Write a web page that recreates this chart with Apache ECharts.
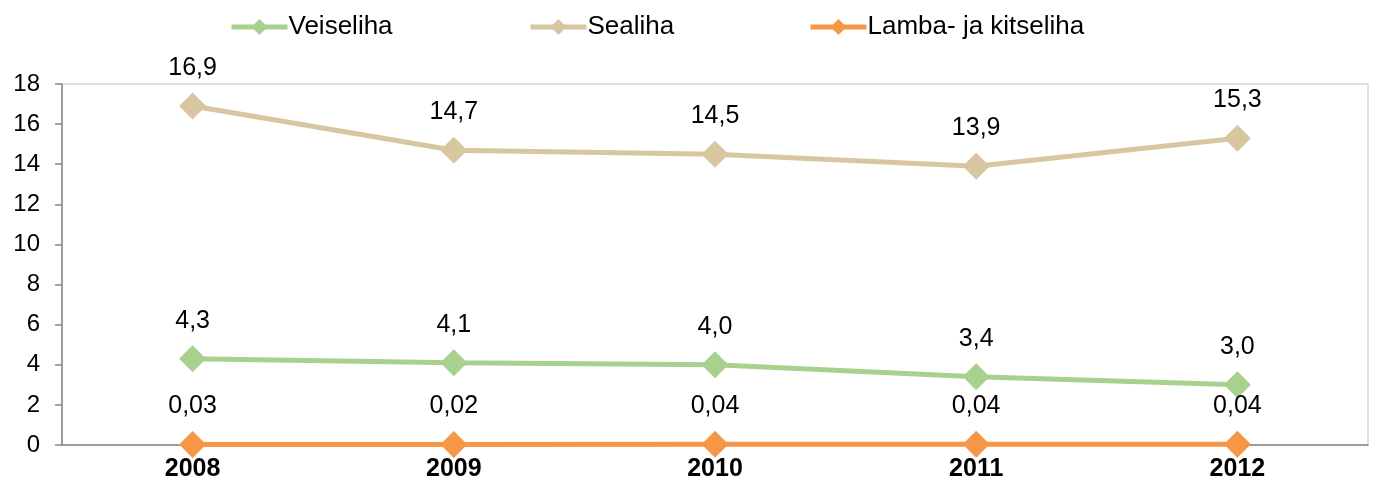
<!DOCTYPE html>
<html><head><meta charset="utf-8">
<script src="https://cdn.jsdelivr.net/npm/echarts@6/dist/echarts.min.js"></script>
<style>html,body{margin:0;padding:0;background:#fff}#c{width:1375px;height:491px}</style>
</head><body><div id="c"></div>
<script>
const categories = ['2008','2009','2010','2011','2012'];
const veiseliha = [4.3, 4.1, 4.0, 3.4, 3.0];
const sealiha = [16.9, 14.7, 14.5, 13.9, 15.3];
const lamba = [0.03, 0.02, 0.04, 0.04, 0.04];
const seriesNames = ['Veiseliha', 'Sealiha', 'Lamba- ja kitseliha'];
const seriesColors = ['#a9d18e', '#d7c6a0', '#f79646'];
const labelDecimals = [1, 1, 2];
const yTicks = {min: 0, max: 18, interval: 2};

const chart = echarts.init(document.getElementById('c'));
const font = 'Liberation Sans, Arial, sans-serif';
const dataSets = [veiseliha, sealiha, lamba];
const legendLefts = [224, 523, 803];
chart.setOption({
  animation: false,
  grid: {left: 62, top: 84, right: 7, bottom: 46, show: true, borderColor: '#c0c0c0', borderWidth: 1},
  legend: seriesNames.map((n, i) => ({
    data: [n], left: legendLefts[i], top: 9, itemWidth: 56, itemHeight: 20,
    lineStyle: {width: 5},
    textStyle: {fontFamily: font, fontSize: 26, color: '#000', padding: [0,0,0,-4]}
  })),
  xAxis: {
    type: 'category', data: categories, boundaryGap: true,
    axisLine: {lineStyle: {color: '#868686', width: 1.5}},
    axisTick: {show: false},
    axisLabel: {fontFamily: font, fontSize: 25, fontWeight: 'bold', color: '#000', margin: 12}
  },
  yAxis: {
    type: 'value', min: yTicks.min, max: yTicks.max, interval: yTicks.interval,
    splitLine: {show: false},
    axisLine: {show: true, lineStyle: {color: '#868686', width: 1.5}},
    axisTick: {show: true, length: 7, lineStyle: {color: '#868686', width: 1.5}},
    axisLabel: {fontFamily: font, fontSize: 24, color: '#000', margin: 22}
  },
  series: seriesNames.map((n, i) => ({
    name: n, type: 'line', data: dataSets[i],
    symbol: 'diamond', symbolSize: 27,
    lineStyle: {color: seriesColors[i], width: 5},
    itemStyle: {color: seriesColors[i]},
    label: {
      show: true, position: 'top', distance: 12,
      fontFamily: font, fontSize: 25, color: '#000',
      formatter: p => p.value.toFixed(labelDecimals[i]).replace('.', ',')
    }
  }))
});
</script></body></html>
